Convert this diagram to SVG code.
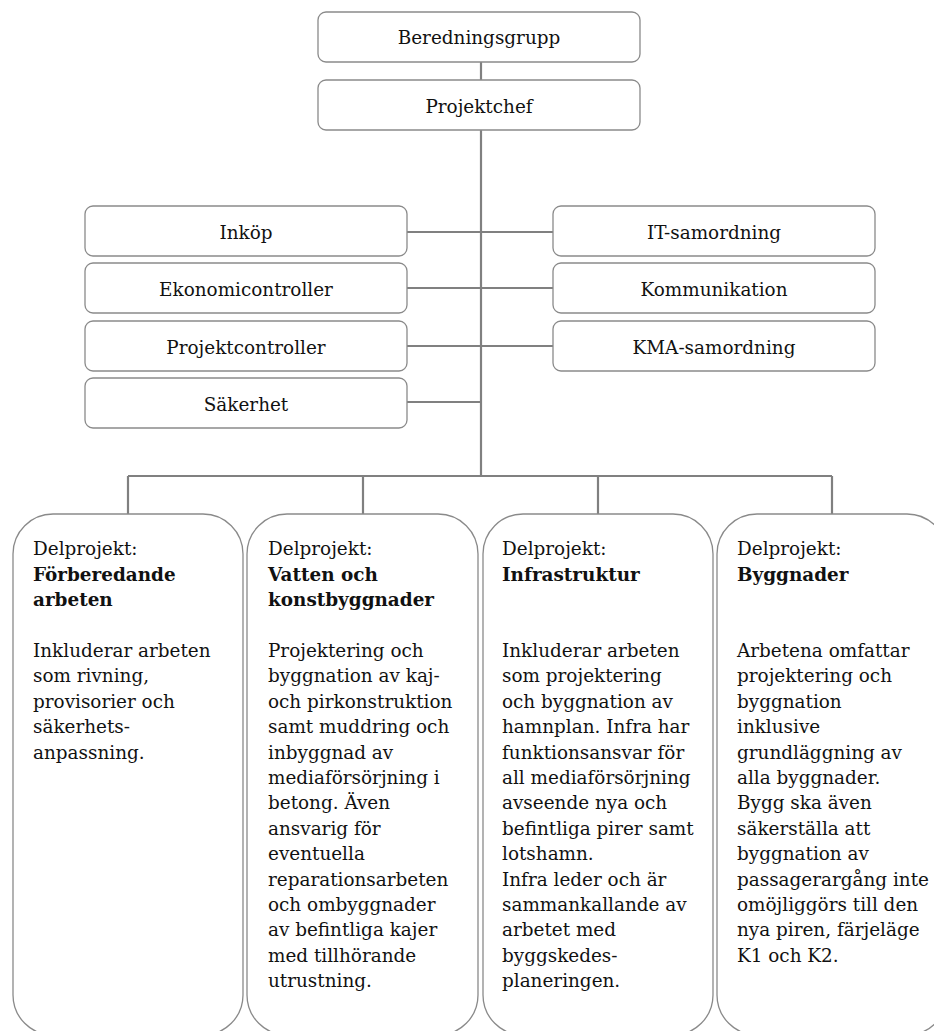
<svg xmlns="http://www.w3.org/2000/svg" width="934" height="1031" viewBox="0 0 934 1031">
<style>
.box{fill:#fff;stroke:#8a8a8a;stroke-width:1.3}
.big{fill:#fff;stroke:#8a8a8a;stroke-width:1.3}
.conn{fill:none;stroke:#808080;stroke-width:2.2}
text{font-family:"DejaVu Serif","Liberation Serif",serif;font-size:18.4px;fill:#111}
.c{text-anchor:middle}
.b{font-weight:bold}
</style>
<rect width="934" height="1031" fill="#fff"/>
<g id="connectors">
<path class="conn" d="M481 62V80M481 130V476M128 476H832M128 476V514M363 476V514M598 476V514M832 476V514"/>
<path class="conn" d="M407 232H481M407 288H481M407 346H481M407 402H481M481 232H553M481 288H553M481 346H553"/>
</g>
<g id="beredningsgrupp"><rect class="box" x="318" y="12" width="322" height="50" rx="8"/><text class="c" x="479" y="44">Beredningsgrupp</text></g>
<g id="projektchef"><rect class="box" x="318" y="80" width="322" height="50" rx="8"/><text class="c" x="479" y="113">Projektchef</text></g>
<g id="inkop"><rect class="box" x="85" y="206" width="322" height="50" rx="8"/><text class="c" x="246" y="239">Inköp</text></g>
<g id="ekonomicontroller"><rect class="box" x="85" y="263" width="322" height="50" rx="8"/><text class="c" x="246" y="296">Ekonomicontroller</text></g>
<g id="projektcontroller"><rect class="box" x="85" y="321" width="322" height="50" rx="8"/><text class="c" x="246" y="354">Projektcontroller</text></g>
<g id="sakerhet"><rect class="box" x="85" y="378" width="322" height="50" rx="8"/><text class="c" x="246" y="411">Säkerhet</text></g>
<g id="it"><rect class="box" x="553" y="206" width="322" height="50" rx="8"/><text class="c" x="714" y="239">IT-samordning</text></g>
<g id="kommunikation"><rect class="box" x="553" y="263" width="322" height="50" rx="8"/><text class="c" x="714" y="296">Kommunikation</text></g>
<g id="kma"><rect class="box" x="553" y="321" width="322" height="50" rx="8"/><text class="c" x="714" y="354">KMA-samordning</text></g>
<g id="dp1"><rect class="big" x="13" y="514" width="230" height="521" rx="40"/>
<text x="33" y="555">Delprojekt:</text>
<text class="b" x="33" y="580.5">Förberedande</text>
<text class="b" x="33" y="606">arbeten</text>
<text x="33" y="657"><tspan x="33">Inkluderar arbeten</tspan><tspan x="33" dy="25.4">som rivning,</tspan><tspan x="33" dy="25.4">provisorier och</tspan><tspan x="33" dy="25.4">säkerhets-</tspan><tspan x="33" dy="25.4">anpassning.</tspan></text>
</g>
<g id="dp2"><rect class="big" x="247" y="514" width="231" height="521" rx="40"/>
<text x="268" y="555">Delprojekt:</text>
<text class="b" x="268" y="580.5">Vatten och</text>
<text class="b" x="268" y="606">konstbyggnader</text>
<text x="268" y="657"><tspan x="268">Projektering och</tspan><tspan x="268" dy="25.4">byggnation av kaj-</tspan><tspan x="268" dy="25.4">och pirkonstruktion</tspan><tspan x="268" dy="25.4">samt muddring och</tspan><tspan x="268" dy="25.4">inbyggnad av</tspan><tspan x="268" dy="25.4">mediaförsörjning i</tspan><tspan x="268" dy="25.4">betong. Även</tspan><tspan x="268" dy="25.4">ansvarig för</tspan><tspan x="268" dy="25.4">eventuella</tspan><tspan x="268" dy="25.4">reparationsarbeten</tspan><tspan x="268" dy="25.4">och ombyggnader</tspan><tspan x="268" dy="25.4">av befintliga kajer</tspan><tspan x="268" dy="25.4">med tillhörande</tspan><tspan x="268" dy="25.4">utrustning.</tspan></text>
</g>
<g id="dp3"><rect class="big" x="483" y="514" width="230" height="521" rx="40"/>
<text x="502" y="555">Delprojekt:</text>
<text class="b" x="502" y="580.5">Infrastruktur</text>
<text x="502" y="657"><tspan x="502">Inkluderar arbeten</tspan><tspan x="502" dy="25.4">som projektering</tspan><tspan x="502" dy="25.4">och byggnation av</tspan><tspan x="502" dy="25.4">hamnplan. Infra har</tspan><tspan x="502" dy="25.4">funktionsansvar för</tspan><tspan x="502" dy="25.4">all mediaförsörjning</tspan><tspan x="502" dy="25.4">avseende nya och</tspan><tspan x="502" dy="25.4">befintliga pirer samt</tspan><tspan x="502" dy="25.4">lotshamn.</tspan><tspan x="502" dy="25.4">Infra leder och är</tspan><tspan x="502" dy="25.4">sammankallande av</tspan><tspan x="502" dy="25.4">arbetet med</tspan><tspan x="502" dy="25.4">byggskedes-</tspan><tspan x="502" dy="25.4">planeringen.</tspan></text>
</g>
<g id="dp4"><rect class="big" x="717" y="514" width="230" height="521" rx="40"/>
<text x="737" y="555">Delprojekt:</text>
<text class="b" x="737" y="580.5">Byggnader</text>
<text x="737" y="657"><tspan x="737">Arbetena omfattar</tspan><tspan x="737" dy="25.4">projektering och</tspan><tspan x="737" dy="25.4">byggnation</tspan><tspan x="737" dy="25.4">inklusive</tspan><tspan x="737" dy="25.4">grundläggning av</tspan><tspan x="737" dy="25.4">alla byggnader.</tspan><tspan x="737" dy="25.4">Bygg ska även</tspan><tspan x="737" dy="25.4">säkerställa att</tspan><tspan x="737" dy="25.4">byggnation av</tspan><tspan x="737" dy="25.4">passagerargång inte</tspan><tspan x="737" dy="25.4">omöjliggörs till den</tspan><tspan x="737" dy="25.4">nya piren, färjeläge</tspan><tspan x="737" dy="25.4">K1 och K2.</tspan></text>
</g>
</svg>
